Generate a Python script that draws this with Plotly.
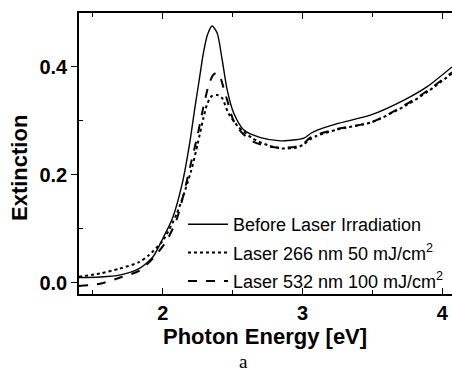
import plotly.graph_objects as go

# Photon energy (eV) and extinction for each sample state
energy_before = [1.40, 1.55, 1.69, 1.83, 1.93, 2.00, 2.07, 2.14, 2.19, 2.23, 2.26, 2.29, 2.32,
                 2.353, 2.389, 2.425, 2.461, 2.508, 2.58, 2.70, 2.843, 2.95, 3.01, 3.06, 3.106,
                 3.25, 3.49, 3.73, 3.89, 4.07]
ext_before = [0.0095, 0.0106, 0.014, 0.026, 0.048, 0.082, 0.120, 0.185, 0.255, 0.325, 0.375, 0.425, 0.460,
              0.476, 0.463, 0.413, 0.357, 0.314, 0.283, 0.269, 0.263, 0.265, 0.268, 0.277, 0.283,
              0.295, 0.311, 0.339, 0.363, 0.40]

energy_266 = [1.40, 1.55, 1.69, 1.83, 1.90, 2.00, 2.10, 2.20, 2.25, 2.29, 2.32, 2.35, 2.39, 2.425,
              2.47, 2.54, 2.64, 2.75, 2.85, 2.95, 3.00, 3.05, 3.10, 3.25, 3.50, 3.75, 3.90, 4.07]
ext_266 = [0.011, 0.017, 0.026, 0.038, 0.051, 0.078, 0.128, 0.205, 0.258, 0.305, 0.333, 0.346, 0.348, 0.342,
           0.314, 0.289, 0.268, 0.255, 0.249, 0.250, 0.255, 0.265, 0.272, 0.284, 0.298, 0.330, 0.355, 0.388]

energy_532 = [1.40, 1.55, 1.70, 1.83, 1.93, 2.03, 2.10, 2.15, 2.20, 2.25, 2.29, 2.33, 2.36,
              2.385, 2.41, 2.425, 2.46, 2.507, 2.57, 2.65, 2.77, 2.85, 2.95, 3.00, 3.05, 3.10,
              3.25, 3.50, 3.75, 3.90, 4.07]
ext_532 = [-0.006, -0.002, 0.010, 0.022, 0.045, 0.079, 0.118, 0.165, 0.220, 0.275, 0.325, 0.368, 0.385,
           0.389, 0.382, 0.370, 0.339, 0.300, 0.277, 0.261, 0.252, 0.250, 0.252, 0.256, 0.268, 0.274,
           0.285, 0.298, 0.332, 0.357, 0.390]

names = ["Before Laser Irradiation",
         "Laser 266 nm 50 mJ/cm<sup>2</sup>",
         "Laser 532 nm 100 mJ/cm<sup>2</sup>"]

W, H = 452, 371
L, T, B, R = 79, 13, 77, 0

fig = go.Figure()
styles = [("solid", 1.4), ("dot", 2.0), ("dash", 2.0)]
series = [(energy_before, ext_before), (energy_266, ext_266), (energy_532, ext_532)]
for i, ((xs, ys), (dash, w), nm) in enumerate(zip(series, styles, names)):
    fig.add_trace(go.Scatter(
        x=xs, y=ys, mode="lines", name=nm, legendgroup=f"g{i}",
        line=dict(color="black", width=w, dash=dash, shape="spline", smoothing=0.7),
    ))

ph = H - T - B
pw = W - L - R

def px_x(px):
    return (px - L) / pw

def px_y(py):
    return (H - B - py) / ph

tickfont = dict(family="Liberation Sans, Arial", size=20, color="black", weight="bold")

fig.update_layout(
    width=W, height=H,
    margin=dict(l=L, r=R, t=T, b=B),
    plot_bgcolor="white", paper_bgcolor="white",
    showlegend=True,
    legend=dict(
        x=px_x(183), y=px_y(206), xanchor="left", yanchor="top",
        bgcolor="rgba(0,0,0,0)", borderwidth=0,
        font=dict(family="Liberation Sans, Arial", size=18, color="black"),
        tracegroupgap=2, itemwidth=40,
    ),
    xaxis=dict(
        range=[1.4, 4.07], showgrid=False, zeroline=False,
        showline=True, linecolor="black", linewidth=1.5, mirror="ticks",
        ticks="inside", ticklen=6, tickwidth=1, tickcolor="black",
        tickvals=[2, 3, 4], tickfont=tickfont,
        minor=dict(ticks="inside", ticklen=4, tickwidth=1, tickcolor="black", tickvals=[1.5, 2.5, 3.5]),
    ),
    yaxis=dict(
        range=[-0.021, 0.500], showgrid=False, zeroline=False,
        showline=True, linecolor="black", linewidth=1.5, mirror=False,
        ticks="outside", ticklen=6, tickwidth=1, tickcolor="black",
        tickvals=[0.0, 0.2, 0.4], ticktext=["0.0", "0.2", "0.4"], tickfont=tickfont,
        minor=dict(ticks="inside", ticklen=4, tickwidth=1, tickcolor="black", tickvals=[0.1, 0.3]),
    ),
    annotations=[
        dict(text="<b>Photon Energy [eV]</b>", xref="paper", yref="paper",
             x=px_x(265), y=px_y(336), xanchor="center", yanchor="middle", showarrow=False,
             font=dict(family="Liberation Sans, Arial", size=22, color="black")),
        dict(text="<b>Extinction</b>", xref="paper", yref="paper", textangle=-90,
             x=px_x(19), y=px_y(168), xanchor="center", yanchor="middle", showarrow=False,
             font=dict(family="Liberation Sans, Arial", size=22, color="black")),
        dict(text="a", xref="paper", yref="paper",
             x=px_x(243), y=px_y(361), xanchor="center", yanchor="middle", showarrow=False,
             font=dict(family="Liberation Serif, Times New Roman", size=19, color="black")),
    ],
)

fig.write_html("out.html")
